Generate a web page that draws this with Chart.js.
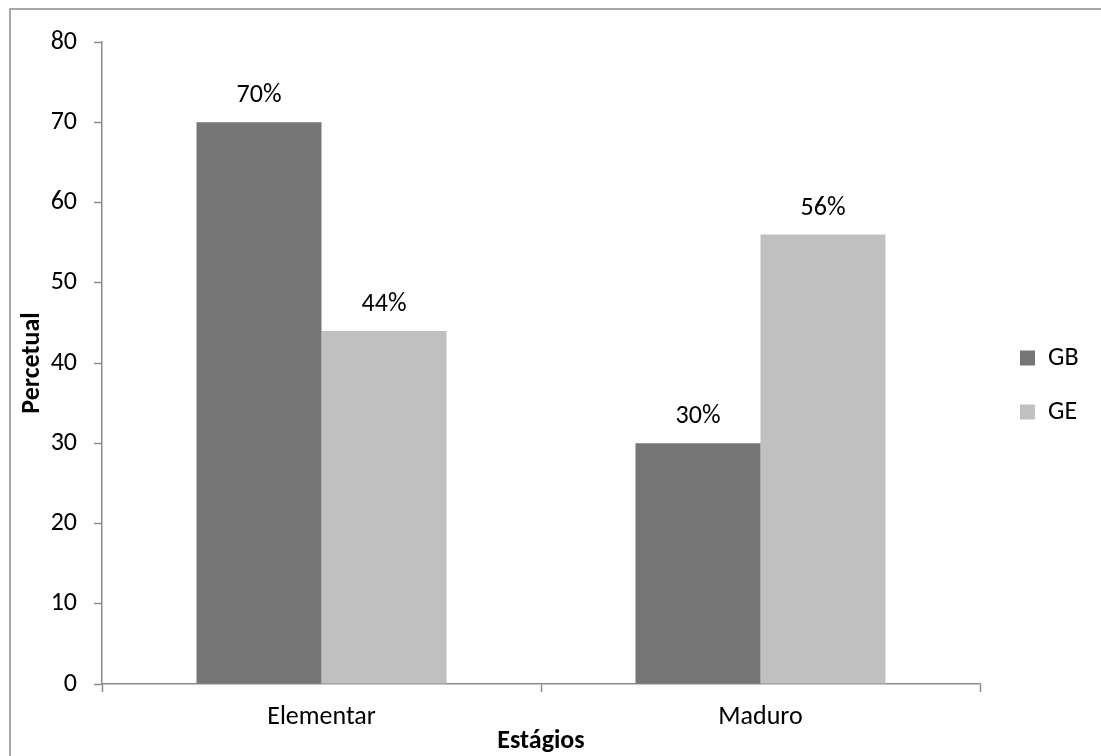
<!DOCTYPE html>
<html>
<head>
<meta charset="utf-8">
<script src="https://cdn.jsdelivr.net/npm/chart.js@4/dist/chart.umd.min.js"></script>
<style>
  html, body { margin: 0; padding: 0; background: #fff; }
  canvas { display: block; }
</style>
</head>
<body>
<canvas id="chart" width="1101" height="756"></canvas>
<script>
// Data
const categories = ['Elementar', 'Maduro'];
const seriesNames = ['GB', 'GE'];
const gbValues = [70, 30];
const geValues = [44, 56];
const yTickValues = [0, 10, 20, 30, 40, 50, 60, 70, 80];
const xTitle = 'Estágios';
const yTitle = 'Percetual';

const FONT = "'Carlito', 'Lato', sans-serif";
const TEXT_SIZE = 26;
const TITLE_SIZE = 26;
const AXIS_GREY = '#8c8c8c';

Chart.defaults.color = '#000';
Chart.defaults.font.family = FONT;

// Thin grey frame around the whole drawing
const framePlugin = {
  id: 'frame',
  beforeDraw(chart) {
    const ctx = chart.ctx;
    ctx.save();
    ctx.fillStyle = '#fff';
    ctx.fillRect(0, 0, chart.width, chart.height);
    ctx.strokeStyle = AXIS_GREY;
    ctx.lineWidth = 1.5;
    ctx.strokeRect(10, 9, chart.width + 100, chart.height + 100);
    ctx.restore();
  }
};

// Legend sits in a fixed-width column to the right of the plot
const legendColumn = {
  id: 'legendColumn',
  beforeLayout(chart) {
    const lg = chart.legend;
    if (lg && !lg._fixedFit) {
      const baseFit = Object.getPrototypeOf(lg).fit;
      lg.fit = function () {
        baseFit.call(this);
        this.width = 121;
      };
      lg._fixedFit = true;
    }
  },
  afterLayout(chart) {
    const lg = chart.legend;
    if (lg) {
      lg.left += 12;
      lg.right += 12;
      lg.top -= 14;
      lg.bottom -= 14;
    }
  }
};

// Percentage labels above each bar
const valueLabels = {
  id: 'valueLabels',
  afterDatasetsDraw(chart) {
    const ctx = chart.ctx;
    ctx.save();
    ctx.font = `${TEXT_SIZE}px ${FONT}`;
    ctx.fillStyle = '#000';
    ctx.textAlign = 'center';
    ctx.textBaseline = 'alphabetic';
    chart.data.datasets.forEach((ds, i) => {
      chart.getDatasetMeta(i).data.forEach((bar, j) => {
        ctx.fillText(ds.data[j] + '%', bar.x, bar.y - 20);
      });
    });
    ctx.restore();
  }
};

new Chart(document.getElementById('chart'), {
  type: 'bar',
  data: {
    labels: categories,
    datasets: [
      { label: seriesNames[0], data: gbValues, backgroundColor: '#767676',
        categoryPercentage: 0.5695, barPercentage: 1.0 },
      { label: seriesNames[1], data: geValues, backgroundColor: '#c0c0c0',
        categoryPercentage: 0.5695, barPercentage: 1.0 }
    ]
  },
  options: {
    responsive: false,
    devicePixelRatio: 1,
    animation: false,
    layout: { padding: { left: 0, top: 42, right: 0, bottom: 0 } },
    plugins: {
      legend: {
        position: 'right',
        align: 'center',
        labels: {
          boxWidth: 15,
          boxHeight: 15,
          padding: 28,
          font: { size: TEXT_SIZE, family: FONT },
          color: '#000'
        }
      },
      tooltip: { enabled: false }
    },
    scales: {
      x: {
        grid: {
          offset: true,
          drawOnChartArea: false,
          drawTicks: true,
          tickLength: 8,
          tickWidth: 1.5,
          color: AXIS_GREY
        },
        border: { color: AXIS_GREY, width: 1.5 },
        ticks: { font: { size: TEXT_SIZE, family: FONT }, color: '#000', padding: 10 },
        title: {
          display: true,
          text: xTitle,
          font: { size: TITLE_SIZE, weight: 'bold', family: FONT },
          color: '#000',
          padding: { top: 0, bottom: -1 }
        },
        afterFit(scale) { scale.height = 72; }
      },
      y: {
        min: 0,
        max: 80,
        afterBuildTicks(scale) {
          scale.ticks = yTickValues.map(v => ({ value: v }));
        },
        grid: {
          drawOnChartArea: false,
          drawTicks: true,
          tickLength: 8,
          tickWidth: 1.5,
          color: AXIS_GREY
        },
        border: { color: AXIS_GREY, width: 1.5 },
        ticks: { font: { size: TEXT_SIZE, family: FONT }, color: '#000', padding: 17 },
        title: {
          display: true,
          text: yTitle,
          font: { size: TITLE_SIZE, weight: 'bold', family: FONT },
          color: '#000',
          padding: { top: 17, bottom: 0 }
        },
        afterFit(scale) { scale.width = 102; }
      }
    }
  },
  plugins: [framePlugin, legendColumn, valueLabels]
});
</script>
</body>
</html>
